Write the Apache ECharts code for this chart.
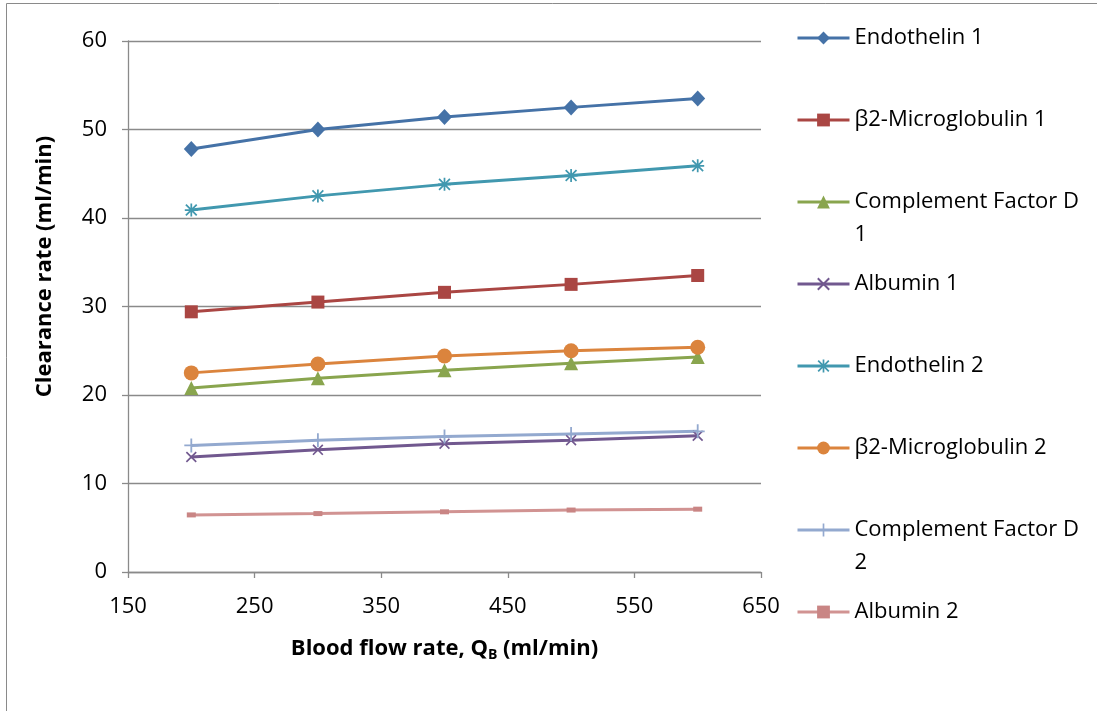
<!DOCTYPE html>
<html>
<head>
<meta charset="utf-8">
<script src="https://cdn.jsdelivr.net/npm/echarts@6/dist/echarts.min.js"></script>
<style>
  html, body { margin: 0; padding: 0; background: #ffffff; }
  #chart { width: 1097px; height: 711px; }
</style>
</head>
<body>
<div id="chart"></div>
<script>
// Blood flow rates (ml/min) and axis tick values
const flowRates = [200, 300, 400, 500, 600];
const xTickValues = [150, 250, 350, 450, 550, 650];

// Clearance rates (ml/min) per solute
const endothelin1 = [47.8, 50.0, 51.4, 52.5, 53.5];
const b2Microglobulin1 = [29.4, 30.5, 31.6, 32.5, 33.5];
const complementFactorD1 = [20.8, 21.9, 22.8, 23.6, 24.3];
const albumin1 = [13.0, 13.8, 14.5, 14.9, 15.4];
const endothelin2 = [40.9, 42.5, 43.8, 44.8, 45.9];
const b2Microglobulin2 = [22.5, 23.5, 24.4, 25.0, 25.4];
const complementFactorD2 = [14.3, 14.9, 15.3, 15.6, 15.9];
const albumin2 = [6.45, 6.6, 6.8, 7.0, 7.1];

const seriesNames = [
  'Endothelin 1', 'β2-Microglobulin 1', 'Complement Factor D 1', 'Albumin 1',
  'Endothelin 2', 'β2-Microglobulin 2', 'Complement Factor D 2', 'Albumin 2'
];
const seriesValues = [
  endothelin1, b2Microglobulin1, complementFactorD1, albumin1,
  endothelin2, b2Microglobulin2, complementFactorD2, albumin2
];

// Build a filled marker outline from thin stroked segments in a 20x20 box
function segmentPath(segs, t) {
  return 'path://' + segs.map(function (s) {
    const dx = s[2] - s[0], dy = s[3] - s[1], len = Math.hypot(dx, dy);
    const nx = -dy / len * t / 2, ny = dx / len * t / 2;
    return 'M' + (s[0] + nx) + ',' + (s[1] + ny) +
           'L' + (s[2] + nx) + ',' + (s[3] + ny) +
           'L' + (s[2] - nx) + ',' + (s[3] - ny) +
           'L' + (s[0] - nx) + ',' + (s[1] - ny) + 'Z';
  }).join('');
}
const crossMark = segmentPath([[0, 0, 20, 20], [20, 0, 0, 20]], 3.4);
const starMark = segmentPath([[0, 0, 20, 20], [20, 0, 0, 20], [10, -2, 10, 22], [-2, 10, 22, 10]], 3.2);
const plusMark = segmentPath([[10, 0, 10, 20], [0, 10, 20, 10]], 2.6);
const dashMark = 'path://M0,0L20,0L20,9L0,9Z';

const colors = ['#4572A7', '#AA4643', '#89A54E', '#71588F', '#4198AF', '#DB843D', '#93A9CF', '#D19392'];
const markerColors = ['#4572A7', '#AA4643', '#89A54E', '#71588F', '#4198AF', '#DB843D', '#93A9CF', '#C98584'];
const symbols = ['diamond', 'rect', 'triangle', crossMark, starMark, 'circle', plusMark, dashMark];
const symbolSizes = [[15, 16], 13, 14, 11, 13, 15, 14, [9, 5]];

const FONT = '"Open Sans", "Liberation Sans", sans-serif';
const GRID_GREY = '#8a8a8a';

const chart = echarts.init(document.getElementById('chart'), null, { renderer: 'canvas' });

const series = seriesNames.map(function (name, i) {
  return {
    name: name,
    type: 'line',
    data: flowRates.map(function (x, k) { return [x, seriesValues[i][k]]; }),
    symbol: symbols[i],
    symbolSize: symbolSizes[i],
    showSymbol: true,
    lineStyle: { color: colors[i], width: 3 },
    itemStyle: { color: markerColors[i], borderWidth: 0 },
    emphasis: { disabled: true },
    animation: false
  };
});

// Legend entries: every entry box is the same height, wrapped names keep
// their first line level with the icon
const legendData = seriesNames.map(function (name) {
  const wrapped = name.indexOf('Complement') === 0;
  return {
    name: name,
    textStyle: { padding: wrapped ? [33, 0, 0, 0] : [33, 0, 33, 0] }
  };
});

chart.setOption({
  animation: false,
  backgroundColor: '#ffffff',
  grid: { left: 128, right: 336, top: 41, bottom: 139, containLabel: false },
  xAxis: {
    type: 'value',
    min: 150,
    max: 650,
    name: 'Blood flow rate, Q{sub|B} (ml/min)',
    nameLocation: 'middle',
    nameGap: 63,
    nameTextStyle: {
      fontFamily: FONT, fontSize: 22, fontWeight: 'bold', color: '#000',
      rich: {
        sub: { fontFamily: FONT, fontSize: 14, fontWeight: 'bold', color: '#000', padding: [13, 0, 0, 0] }
      }
    },
    axisLine: { show: true, lineStyle: { color: GRID_GREY, width: 1.3 } },
    axisTick: { show: true, length: 6, customValues: xTickValues, lineStyle: { color: GRID_GREY, width: 1.3 } },
    axisLabel: { customValues: xTickValues, fontFamily: FONT, fontSize: 22, color: '#000', margin: 24 },
    splitLine: { show: false }
  },
  yAxis: {
    type: 'value',
    min: 0,
    max: 60,
    interval: 10,
    name: 'Clearance rate (ml/min)',
    nameLocation: 'middle',
    nameRotate: 90,
    nameGap: 72,
    nameTextStyle: {
      fontFamily: FONT, fontSize: 22, fontWeight: 'bold', color: '#000',
      padding: [0, 0, 0, 80]
    },
    axisLine: { show: true, lineStyle: { color: GRID_GREY, width: 1.3 } },
    axisTick: { show: true, length: 6, lineStyle: { color: GRID_GREY, width: 1.3 } },
    axisLabel: { fontFamily: FONT, fontSize: 22, color: '#000', margin: 21 },
    splitLine: { show: true, lineStyle: { color: GRID_GREY, width: 1.3 } }
  },
  legend: {
    orient: 'vertical',
    left: 796,
    top: -11.5,
    padding: 0,
    itemGap: -17,
    itemWidth: 52,
    itemHeight: 16,
    selectedMode: false,
    data: legendData,
    lineStyle: { width: 3 },
    formatter: function (name) { return '{t|' + name + '}'; },
    textStyle: {
      fontFamily: FONT, fontSize: 22, color: '#000', lineHeight: 33,
      width: 240, overflow: 'break', backgroundColor: 'rgba(0,0,0,0)',
      rich: {
        t: { fontFamily: FONT, fontSize: 22, color: '#000', lineHeight: 33 }
      }
    }
  },
  graphic: [{
    type: 'rect',
    silent: true,
    shape: { x: 6.5, y: 3.5, width: 1200, height: 800 },
    style: { fill: 'none', stroke: '#8a8a8a', lineWidth: 1 }
  }],
  series: series
});
</script>
</body>
</html>
